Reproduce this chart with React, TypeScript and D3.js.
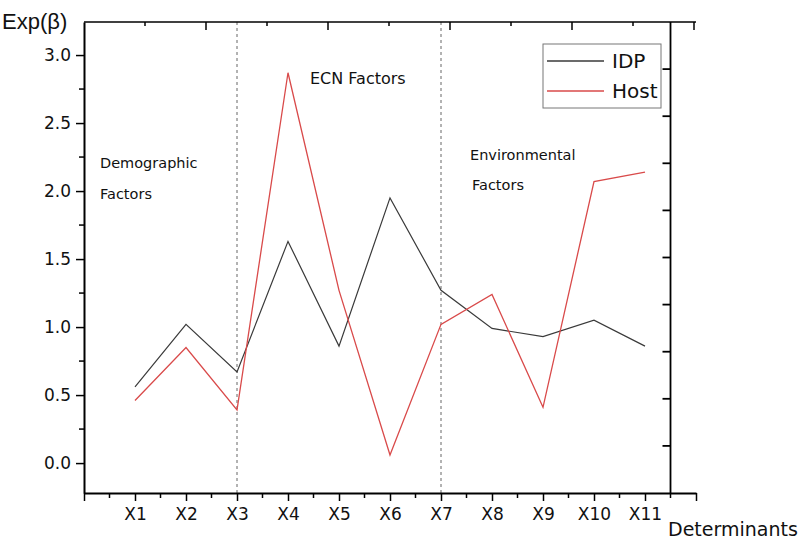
import React, { useEffect, useRef } from 'react';
import * as d3 from 'd3';

const categories = ['X1', 'X2', 'X3', 'X4', 'X5', 'X6', 'X7', 'X8', 'X9', 'X10', 'X11'];
const idp = [0.56, 1.02, 0.67, 1.63, 0.86, 1.95, 1.27, 0.99, 0.93, 1.05, 0.86];
const host = [0.46, 0.85, 0.39, 2.87, 1.27, 0.06, 1.02, 1.24, 0.41, 2.07, 2.14];
const yTicks = [0, 0.5, 1.0, 1.5, 2.0, 2.5, 3.0];
const dividers = ['X3', 'X7'];
const seriesNames = ['IDP', 'Host'];

export default function App() {
  const ref = useRef<HTMLDivElement>(null);

  useEffect(() => {
    document.body.style.margin = '0';
    const container = ref.current;
    if (!container) return;
    container.innerHTML = '';

    const width = 802;
    const height = 541;
    const left = 84, right = 696, top = 22, bottom = 493;
    const font = '"DejaVu Sans", sans-serif';

    const svg = d3.select(container)
      .append('svg')
      .attr('width', width)
      .attr('height', height)
      .style('display', 'block')
      .style('background', '#fff');

    const x = d3.scaleLinear().domain([0, 12]).range([left, right]);
    const y = d3.scaleLinear().domain([-0.22, 3.243]).range([bottom, top]);
    const xTop = d3.scaleLinear().domain([0, 5]).range([left, 694]);
    const yRight = d3.scaleLinear().domain([0, 10]).range([bottom, top]);
    const rightX = x(11.5);

    // divider lines
    svg.selectAll('line.div')
      .data(dividers)
      .enter().append('line')
      .attr('x1', d => x(categories.indexOf(d) + 1))
      .attr('x2', d => x(categories.indexOf(d) + 1))
      .attr('y1', top).attr('y2', bottom)
      .attr('stroke', '#666')
      .attr('stroke-width', 1)
      .attr('stroke-dasharray', '3,3');

    // series lines
    const line = d3.line<number>()
      .x((_, i) => x(i + 1))
      .y(d => y(d));

    svg.append('path').datum(idp)
      .attr('fill', 'none').attr('stroke', '#3a3a3a').attr('stroke-width', 1.2)
      .attr('d', line);
    svg.append('path').datum(host)
      .attr('fill', 'none').attr('stroke', '#d94a4a').attr('stroke-width', 1.3)
      .attr('d', line);

    // left axis
    const gl = svg.append('g').attr('transform', `translate(${left},0)`);
    gl.call(d3.axisLeft(y).tickValues(yTicks).tickFormat(d3.format('.1f'))
      .tickSizeInner(8).tickSizeOuter(0).tickPadding(5));
    gl.selectAll('.minor').data(yTicks.slice(0, -1).map(v => v + 0.25))
      .enter().append('line')
      .attr('x1', -5).attr('x2', 0)
      .attr('y1', d => y(d)).attr('y2', d => y(d));

    // bottom axis
    const gb = svg.append('g').attr('transform', `translate(0,${bottom})`);
    gb.call(d3.axisBottom(x)
      .tickValues(d3.range(0, 13))
      .tickFormat((d: any) => (d >= 1 && d <= 11 ? categories[d - 1] : ''))
      .tickSizeInner(8).tickSizeOuter(0).tickPadding(7));
    gb.selectAll('.minor').data(d3.range(0, 12).map(v => v + 0.5))
      .enter().append('line')
      .attr('x1', d => x(d)).attr('x2', d => x(d))
      .attr('y1', 0).attr('y2', 5);

    // top axis (inward ticks)
    const gt = svg.append('g').attr('transform', `translate(0,${top})`);
    gt.append('line').attr('x1', left).attr('x2', right).attr('y1', 0).attr('y2', 0);
    gt.selectAll('.maj').data(d3.range(1, 6))
      .enter().append('line')
      .attr('x1', d => xTop(d)).attr('x2', d => xTop(d))
      .attr('y1', 0).attr('y2', 8);
    gt.selectAll('.min').data(d3.range(0, 5).map(v => v + 0.5))
      .enter().append('line')
      .attr('x1', d => xTop(d)).attr('x2', d => xTop(d))
      .attr('y1', 0).attr('y2', 4);

    // right axis (inward ticks)
    const gr = svg.append('g').attr('transform', `translate(${rightX},0)`);
    gr.append('line').attr('x1', 0).attr('x2', 0).attr('y1', top).attr('y2', bottom);
    gr.selectAll('.t').data(d3.range(1, 10))
      .enter().append('line')
      .attr('x1', -8).attr('x2', 0)
      .attr('y1', d => yRight(d)).attr('y2', d => yRight(d));

    svg.selectAll('line').filter(function () {
      return !(this as SVGLineElement).getAttribute('stroke-dasharray');
    }).attr('stroke', '#000');
    svg.selectAll('.domain').attr('stroke', '#000').attr('stroke-width', 2);
    gl.selectAll('line').attr('stroke-width', 1.5);
    gb.selectAll('line').attr('stroke-width', 1.5);
    gt.selectAll('line').attr('stroke-width', 1.5);
    gr.selectAll('line').attr('stroke-width', 1.8);

    svg.selectAll('.tick text')
      .attr('font-family', font)
      .attr('font-size', 17)
      .attr('fill', '#111');

    // axis titles
    svg.append('text').attr('x', 2).attr('y', 29)
      .attr('font-family', '"Liberation Sans", Arial, sans-serif')
      .attr('font-size', 22).attr('fill', '#111')
      .text('Exp(β)');
    svg.append('text').attr('x', 668).attr('y', 536)
      .attr('font-family', font)
      .attr('font-size', 19).attr('fill', '#111')
      .text('Determinants');

    // group annotations
    const notes = [
      { t: 'Demographic', x: 100, y: 168 },
      { t: 'Factors', x: 100, y: 199 },
      { t: 'ECN Factors', x: 310, y: 84 },
      { t: 'Environmental', x: 470, y: 160 },
      { t: 'Factors', x: 472, y: 190 },
    ];
    svg.selectAll('text.note').data(notes)
      .enter().append('text')
      .attr('x', d => d.x).attr('y', d => d.y)
      .attr('font-family', font).attr('font-size', d => (d.t === 'ECN Factors' ? 16 : 14.5))
      .attr('fill', '#111')
      .text(d => d.t);

    // legend
    const lg = svg.append('g').attr('transform', 'translate(543,44)');
    lg.append('rect').attr('width', 118).attr('height', 64)
      .attr('fill', '#fff').attr('stroke', '#777').attr('stroke-width', 1);
    const colors = ['#3a3a3a', '#d94a4a'];
    seriesNames.forEach((name, i) => {
      lg.append('line')
        .attr('x1', 4).attr('x2', 61)
        .attr('y1', 17 + i * 30).attr('y2', 17 + i * 30)
        .attr('stroke', colors[i]).attr('stroke-width', 1.3);
      lg.append('text')
        .attr('x', 69).attr('y', 24 + i * 30)
        .attr('font-family', font).attr('font-size', 20).attr('fill', '#111')
        .text(name);
    });
  }, []);

  return <div ref={ref} />;
}
